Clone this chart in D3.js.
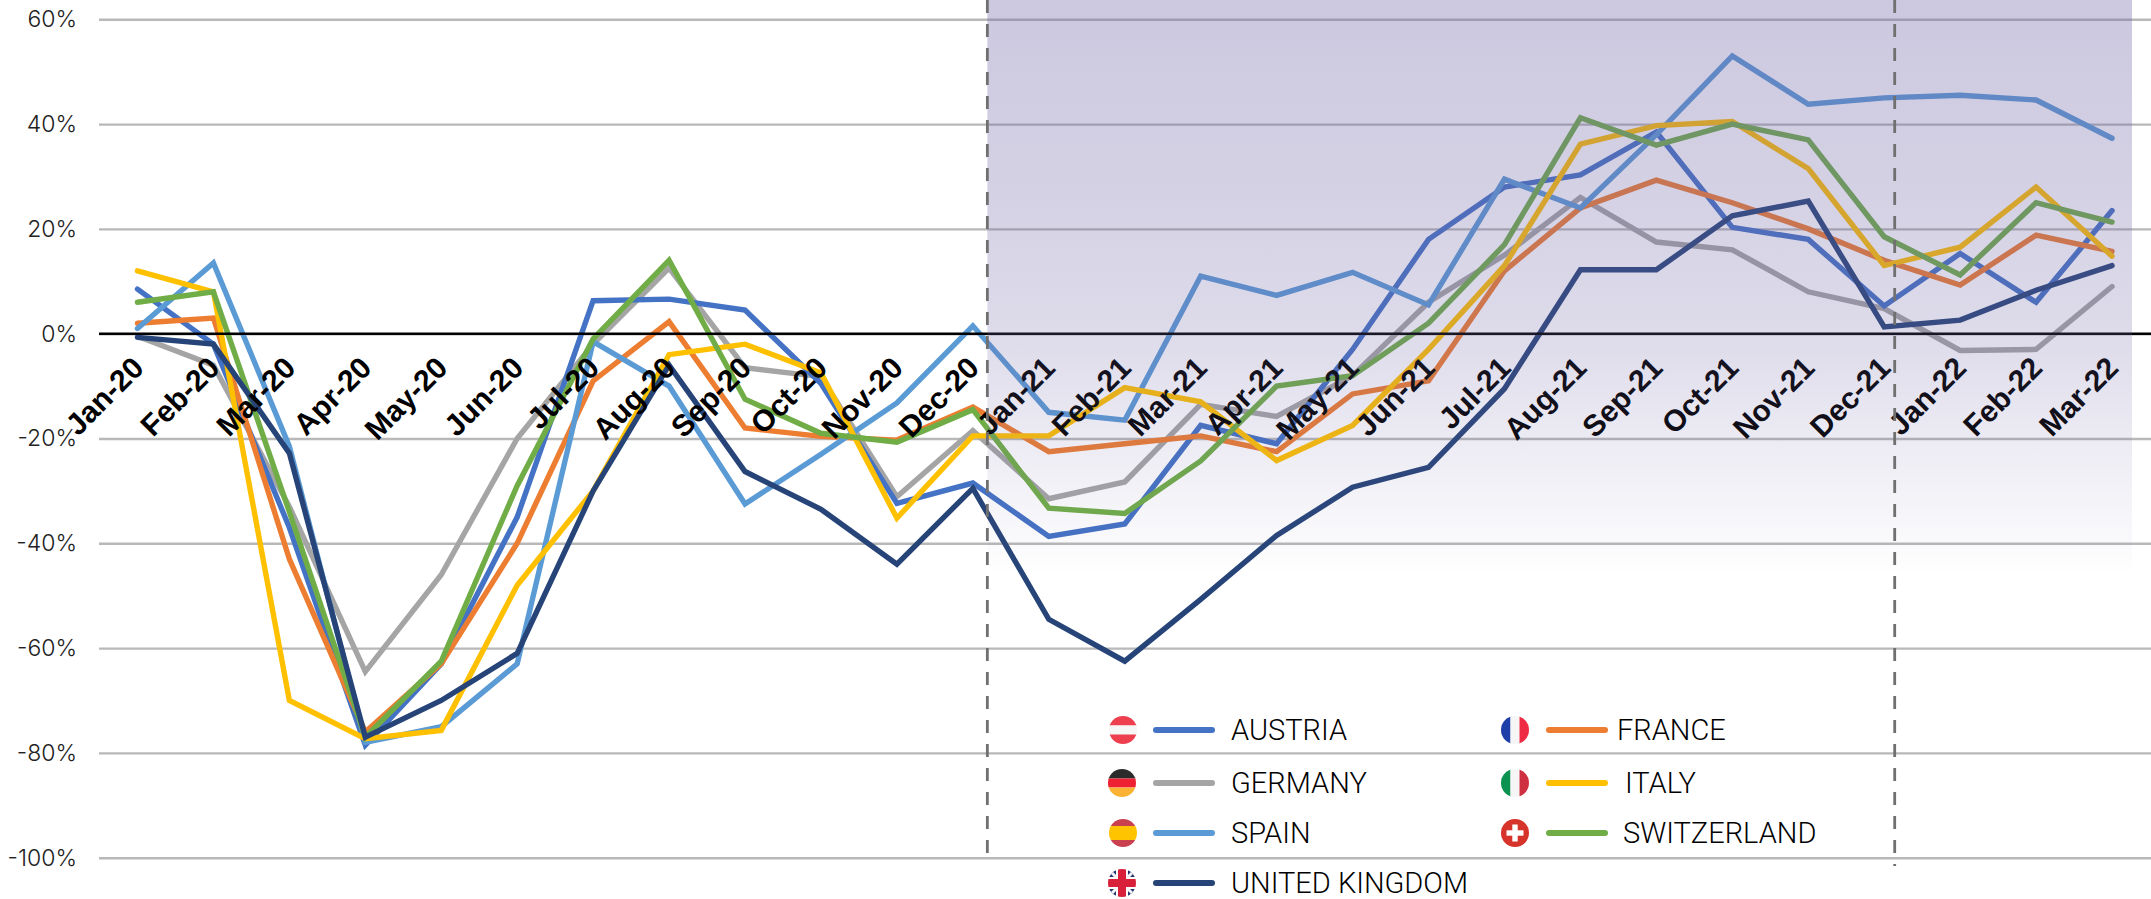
<!DOCTYPE html>
<html>
<head>
<meta charset="utf-8">
<script src="https://cdn.jsdelivr.net/npm/d3@7"></script>
<style>
    html, body { margin: 0; padding: 0; background: #fff; }
    svg { display: block; }
    .y_axis text { font-family: "Inter", sans-serif; font-size: 23px; font-weight: 300; fill: #222; }
    .x_axis text { font-family: "Liberation Sans", sans-serif; font-size: 30px; font-weight: bold; fill: #000; }
    .legend text { font-family: "Roboto", sans-serif; font-size: 29px; font-weight: 300; fill: #000; }
</style>
</head>
<body>
<svg id="chart" width="2151" height="899"></svg>
<script>
const months = ["Jan-20", "Feb-20", "Mar-20", "Apr-20", "May-20", "Jun-20", "Jul-20", "Aug-20", "Sep-20", "Oct-20", "Nov-20", "Dec-20",
    "Jan-21", "Feb-21", "Mar-21", "Apr-21", "May-21", "Jun-21", "Jul-21", "Aug-21", "Sep-21", "Oct-21", "Nov-21", "Dec-21",
    "Jan-22", "Feb-22", "Mar-22"];
const y_ticks = [60, 40, 20, 0, -20, -40, -60, -80, -100];

const austria = [8.5, -2, -37, -78.5, -63, -35, 6.3, 6.6, 4.5, -9.5, -32.4, -28.5, -38.7, -36.3, -17.5, -21, -3, 18, 28, 30.3, 38.5, 20.3, 18, 5.3, 15.3, 6, 23.5];
const france = [2, 3, -43, -76, -63, -40, -9, 2.3, -18, -19.6, -20.3, -14, -22.5, -21, -19.5, -22.5, -11.5, -9, 12, 24, 29.3, 25, 20, 14, 9.3, 18.8, 15.7];
const germany = [-0.5, -6, -33, -64.5, -46, -20, -2, 12.5, -6.5, -8.2, -31.1, -18.5, -31.5, -28.3, -13.5, -15.8, -8, 6, 15, 26, 17.5, 16, 8, 4.8, -3.2, -3, 9];
const spain = [1, 13.5, -21.5, -78, -75, -63, -1.5, -10, -32.5, -23, -13.2, 1.5, -15, -16.5, 11, 7.3, 11.7, 5.5, 29.5, 24, 38, 53, 43.8, 45, 45.5, 44.6, 37.3];
const italy = [12, 8, -70, -77.3, -75.7, -48, -30, -4, -2, -7.5, -35.2, -19.5, -19.5, -10.3, -13, -24.2, -17.5, -3, 13, 36.2, 39.7, 40.5, 31.5, 13, 16.5, 28, 14.8];
const switzerland = [6, 8, -34, -77, -62.5, -29, -1, 14, -12.5, -19, -20.7, -14.5, -33.3, -34.3, -24.3, -10, -8, 2, 17, 41.2, 36, 40, 37, 18.5, 11.2, 25, 21.3];
const united_kingdom = [-0.7, -2, -22.8, -77, -70, -61, -30, -6, -26.3, -33.5, -44, -29.5, -54.5, -62.5, -50.7, -38.5, -29.3, -25.5, -10.5, 12.2, 12.2, 22.5, 25.3, 1.3, 2.6, 8.3, 13];

const series_names = ["AUSTRIA", "FRANCE", "GERMANY", "ITALY", "SPAIN", "SWITZERLAND", "UNITED KINGDOM"];
const series_values = [austria, france, germany, italy, spain, switzerland, united_kingdom];
const series_colors = ["#4472c4", "#ed7d31", "#a5a5a5", "#ffc000", "#5b9bd5", "#70ad47", "#264478"];
// draw order of the lines, back to front
const draw_order = ["GERMANY", "AUSTRIA", "FRANCE", "SPAIN", "ITALY", "SWITZERLAND", "UNITED KINGDOM"];

// phase markers sit just after these months
const phase_after = ["Dec-20", "Dec-21"];

let svg = d3.select("#chart");

let x = d3.scaleBand().domain(months).range([99.5, 2150]);
let y = d3.scaleLinear().domain([-100, 60]).range([857.7, 19.3]);

let grid = svg.append("g")
    .attr("class", "y_axis")
    .attr("transform", "translate(99,0)")
    .call(d3.axisLeft(y).tickValues(y_ticks).tickFormat(d => d + "%").tickSize(-2052).tickPadding(22));
grid.select(".domain").remove();
grid.selectAll("line").attr("stroke", "#b8b8b8").attr("stroke-width", 2.4);

let line = d3.line()
    .x((d, i) => x(months[i]) + x.bandwidth() / 2)
    .y(d => y(d));

svg.append("g").selectAll("path")
    .data(draw_order)
    .join("path")
    .attr("d", d => line(series_values[series_names.indexOf(d)]))
    .attr("fill", "none")
    .attr("stroke", d => series_colors[series_names.indexOf(d)])
    .attr("stroke-width", 5.4)
    .attr("stroke-linejoin", "miter")
    .attr("stroke-linecap", "round");

// zero line + month labels
let x_axis = svg.append("g")
    .attr("class", "x_axis")
    .attr("transform", `translate(0,${y(0)})`)
    .call(d3.axisBottom(x).tickSize(0));
x_axis.select(".domain").attr("stroke", "#000").attr("stroke-width", 2.4).attr("d", "M99,0H2151");
x_axis.selectAll("text")
    .attr("text-anchor", "end")
    .attr("dy", 0)
    .attr("y", 0)
    .attr("transform", "translate(8,36) rotate(-45)");

// shaded block, laid over the lines
let defs = svg.append("defs");
let shade = defs.append("linearGradient")
    .attr("id", "shade").attr("x1", 0).attr("x2", 0).attr("y1", 0).attr("y2", 1);
[[0, .35], [.348, .29], [.581, .23], [.762, .13], [.944, .035], [1, 0]].forEach(s => {
    shade.append("stop").attr("offset", s[0]).attr("stop-color", "#6d62a4").attr("stop-opacity", s[1]);
});
let step_edge = m => x(m) + x.bandwidth() / 2 + (m == "Dec-21" ? 10.5 : 14.5);
svg.append("rect")
    .attr("x", step_edge("Dec-20")).attr("y", 0)
    .attr("width", 2132 - step_edge("Dec-20")).attr("height", 575)
    .attr("fill", "url(#shade)");

svg.append("g").selectAll("line")
    .data(phase_after)
    .join("line")
    .attr("x1", d => step_edge(d))
    .attr("x2", d => step_edge(d))
    .attr("y1", 0)
    .attr("y2", d => d == "Dec-21" ? 866 : 855)
    .attr("stroke", "#707070")
    .attr("stroke-width", 2.8)
    .attr("stroke-dasharray", "13 11");

// legend
let legend_rows = [
    {name: "AUSTRIA", fx: 1123, lx: 1156, tx: 1231, y: 730},
    {name: "FRANCE", fx: 1515, lx: 1549, tx: 1617, y: 730},
    {name: "GERMANY", fx: 1122, lx: 1156, tx: 1231, y: 783},
    {name: "ITALY", fx: 1515, lx: 1549, tx: 1625, y: 783},
    {name: "SPAIN", fx: 1123, lx: 1156, tx: 1231, y: 833},
    {name: "SWITZERLAND", fx: 1515, lx: 1549, tx: 1623, y: 833},
    {name: "UNITED KINGDOM", fx: 1122, lx: 1156, tx: 1231, y: 883}
];

let legend = svg.append("g").attr("class", "legend");

legend.selectAll(".key")
    .data(legend_rows)
    .join("line")
    .attr("class", "key")
    .attr("x1", d => d.lx).attr("x2", d => d.lx + 56)
    .attr("y1", d => d.y).attr("y2", d => d.y)
    .attr("stroke", d => series_colors[series_names.indexOf(d.name)])
    .attr("stroke-width", 6)
    .attr("stroke-linecap", "round");

legend.selectAll("text")
    .data(legend_rows)
    .join("text")
    .attr("x", d => d.tx)
    .attr("y", d => d.y + 10)
    .text(d => d.name);

// flag: list of [x, y, w, h, color] in a 28 unit box centred on the flag
const flags = {
    "AUSTRIA": [[-14, -14, 28, 9.5, "#ee3f4e"], [-14, -4.5, 28, 9, "#f6f6f6"], [-14, 4.5, 28, 9.5, "#ee3f4e"]],
    "FRANCE": [[-14, -14, 9.5, 28, "#1f3fa8"], [-4.5, -14, 9, 28, "#f6f6f6"], [4.5, -14, 9.5, 28, "#ee2b42"]],
    "GERMANY": [[-14, -14, 28, 9.5, "#2b2b2b"], [-14, -4.5, 28, 9, "#ee2033"], [-14, 4.5, 28, 9.5, "#f9b233"]],
    "ITALY": [[-14, -14, 9.5, 28, "#0b9150"], [-4.5, -14, 9, 28, "#f6f6f6"], [4.5, -14, 9.5, 28, "#cf3040"]],
    "SPAIN": [[-14, -14, 28, 7, "#c9404e"], [-14, -7, 28, 14, "#ffc400"], [-14, 7, 28, 7, "#c9404e"]],
    "SWITZERLAND": [[-14, -14, 28, 28, "#d6342b"], [-8.5, -2.7, 17, 5.4, "#fff"], [-2.7, -8.5, 5.4, 17, "#fff"]],
    "UNITED KINGDOM": [[-14, -14, 28, 28, "#f4f4f6"], [-14, -4, 28, 8, "#d8203a"], [-4, -14, 8, 28, "#d8203a"]]
};

defs.append("clipPath").attr("id", "flag_clip").append("circle").attr("r", 14);

legend_rows.forEach(d => {
    let g = legend.append("g")
        .attr("transform", `translate(${d.fx},${d.y})`)
        .attr("clip-path", "url(#flag_clip)");
    if (d.name == "UNITED KINGDOM") {
        // blue corners go under the cross
        [[-14, -14], [6, -14], [-14, 6], [6, 6]].forEach(c => {
            g.append("rect").attr("x", c[0]).attr("y", c[1]).attr("width", 8).attr("height", 8).attr("fill", "#23366f");
        });
        [[-14, -14, -5, -5], [14, -14, 5, -5], [-14, 14, -5, 5], [14, 14, 5, 5]].forEach(c => {
            g.append("line").attr("x1", c[0]).attr("y1", c[1]).attr("x2", c[2]).attr("y2", c[3])
                .attr("stroke", "#f4f4f6").attr("stroke-width", 3);
        });
    }
    flags[d.name].forEach((f, i) => {
        if (d.name == "UNITED KINGDOM" && i == 0) return;
        g.append("rect")
            .attr("x", f[0]).attr("y", f[1]).attr("width", f[2]).attr("height", f[3])
            .attr("fill", f[4]);
    });
});
</script>
</body>
</html>
